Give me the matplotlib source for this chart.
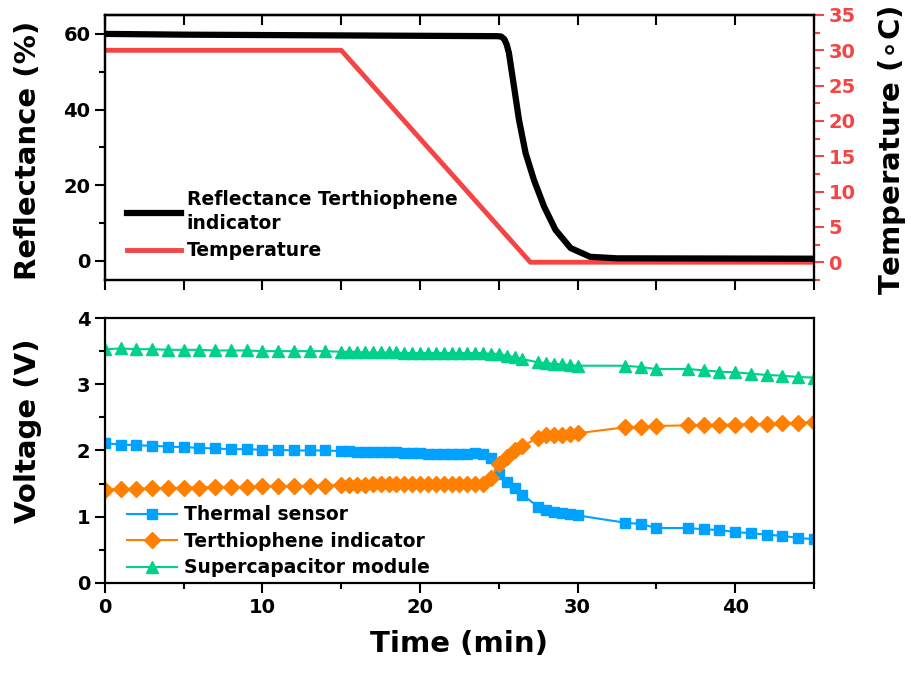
import numpy as np
import matplotlib
matplotlib.use('Agg')
import matplotlib.pyplot as plt
from matplotlib.ticker import MultipleLocator

# ---- top panel: reflectance (%) and temperature (C) vs time (min)
refl_t = [0, 5, 10, 15, 20, 24.9, 25.15, 25.35, 25.5, 25.64, 25.96, 26.28, 26.7,
          27.23, 27.87, 28.6, 29.56, 30.8, 32.5, 45.0]
refl_v = [60.0, 59.8, 59.7, 59.6, 59.5, 59.4, 59.3, 58.6, 57.2, 55.0, 46.2, 37.3,
          28.5, 21.4, 14.4, 8.2, 3.4, 1.1, 0.7, 0.6]
temp_t = [0, 15, 27, 45]
temp_v = [30, 30, 0, 0]

# ---- bottom panel: voltages (V)
v_t = list(range(0, 15)) + [15 + 0.5 * i for i in range(24)] + \
      [27.5, 28, 28.5, 29, 29.5, 30, 33, 34, 35, 37, 38, 39, 40, 41, 42, 43, 44, 45]
thermal = [2.11, 2.09, 2.08, 2.07, 2.06, 2.05, 2.04, 2.03, 2.02, 2.02, 2.01, 2.01,
           2.00, 2.00, 2.00,
           1.99, 1.99, 1.98, 1.98, 1.98, 1.97, 1.97, 1.97, 1.96, 1.96, 1.96, 1.95,
           1.95, 1.95, 1.95, 1.94, 1.95, 1.96, 1.94, 1.89, 1.65, 1.53, 1.43, 1.33,
           1.15, 1.10, 1.07, 1.05, 1.04, 1.02, 0.91, 0.89, 0.83, 0.83, 0.81, 0.80,
           0.77, 0.75, 0.73, 0.71, 0.68, 0.66]
terth = [1.41, 1.42, 1.42, 1.43, 1.43, 1.44, 1.44, 1.45, 1.45, 1.45, 1.46, 1.46,
         1.46, 1.47, 1.47,
         1.48, 1.48, 1.48, 1.48, 1.49, 1.49, 1.49, 1.49, 1.49, 1.50, 1.50, 1.50,
         1.50, 1.50, 1.50, 1.50, 1.50, 1.50, 1.50, 1.58, 1.80, 1.90, 2.00, 2.07,
         2.19, 2.23, 2.24, 2.24, 2.25, 2.26, 2.35, 2.36, 2.37, 2.38, 2.38, 2.39,
         2.39, 2.40, 2.40, 2.41, 2.42, 2.43]
supercap = [3.53, 3.54, 3.53, 3.53, 3.52, 3.52, 3.52, 3.51, 3.51, 3.51, 3.50, 3.50,
            3.50, 3.50, 3.50,
            3.49, 3.49, 3.49, 3.48, 3.48, 3.48, 3.48, 3.48, 3.47, 3.47, 3.47, 3.47,
            3.47, 3.47, 3.47, 3.47, 3.47, 3.47, 3.47, 3.46, 3.46, 3.43, 3.41, 3.38,
            3.33, 3.32, 3.31, 3.30, 3.29, 3.28, 3.28, 3.26, 3.23, 3.23, 3.21, 3.19,
            3.18, 3.16, 3.14, 3.13, 3.11, 3.10]

RED = '#F44545'
BLUE = '#00A2FF'
ORANGE = '#FF8000'
GREEN = '#00D189'

plt.rcParams['font.family'] = ['DejaVu Sans']
plt.rcParams['font.weight'] = 'bold'
plt.rcParams['axes.linewidth'] = 1.6
plt.rcParams['mathtext.default'] = 'bf'

fig = plt.figure(figsize=(9.12, 6.81), dpi=100)
ax1 = fig.add_axes([0.115, 0.589, 0.7775, 0.389])
ax2 = fig.add_axes([0.115, 0.144, 0.7775, 0.389])
axT = ax1.twinx()

# top panel
ln1, = ax1.plot(refl_t, refl_v, color='black', lw=4.5, solid_joinstyle='round',
                label='Reflectance Terthiophene\nindicator')
ln2, = axT.plot(temp_t, temp_v, color=RED, lw=3.5, label='Temperature')
ax1.set_zorder(axT.get_zorder() + 1)
ax1.patch.set_visible(False)

ax1.set_xlim(0, 45)
ax1.set_ylim(-5, 65)
axT.set_ylim(-2.5, 35)
ax1.xaxis.set_major_locator(MultipleLocator(5))
ax1.set_xticklabels([])
ax1.yaxis.set_major_locator(MultipleLocator(20))
ax1.yaxis.set_minor_locator(MultipleLocator(10))
ax1.tick_params(axis='x', which='both', direction='out', length=7, width=1.5)
ax1.tick_params(axis='y', which='major', direction='out', length=7, width=1.5,
                labelsize=14)
ax1.tick_params(axis='y', which='minor', direction='out', length=4, width=1.5)
top = ax1.secondary_xaxis('top')
top.xaxis.set_major_locator(MultipleLocator(5))
top.tick_params(direction='in', length=7, width=1.5, labeltop=False)
ax1.set_ylabel('Reflectance (%)', fontsize=21, fontweight='bold')
ax1.yaxis.set_label_coords(-0.089, 0.49)

axT.yaxis.set_major_locator(MultipleLocator(5))
axT.yaxis.set_minor_locator(MultipleLocator(2.5))
axT.tick_params(axis='y', which='major', direction='out', length=7, width=1.5,
                colors=RED, labelsize=14)
axT.tick_params(axis='y', which='minor', direction='out', length=4, width=1.5,
                colors=RED)
axT.spines['right'].set_color(RED)
for lab in axT.get_yticklabels():
    lab.set_fontweight('bold')
axT.set_ylabel('Temperature ($\\circ$C)', fontsize=21, fontweight='bold')
axT.yaxis.set_label_coords(1.088, 0.49)

leg1 = ax1.legend(handles=[ln1, ln2], loc='lower left',
                  bbox_to_anchor=(0.007, 0.01), frameon=False,
                  handlelength=2.9, handletextpad=0.3, labelspacing=0.42,
                  prop={'weight': 'bold', 'size': 13.5})
for t in leg1.get_texts():
    t.set_linespacing(1.35)

# bottom panel
ax2.plot(v_t, thermal, color=BLUE, lw=1.5, marker='s', ms=7.5, label='Thermal sensor')
ax2.plot(v_t, terth, color=ORANGE, lw=1.5, marker='D', ms=8,
         label='Terthiophene indicator')
ax2.plot(v_t, supercap, color=GREEN, lw=1.5, marker='^', ms=8.5,
         label='Supercapacitor module')
ax2.set_xlim(0, 45)
ax2.set_ylim(0, 4)
ax2.xaxis.set_major_locator(MultipleLocator(10))
ax2.xaxis.set_minor_locator(MultipleLocator(5))
ax2.yaxis.set_major_locator(MultipleLocator(1))
ax2.yaxis.set_minor_locator(MultipleLocator(0.5))
ax2.tick_params(axis='both', which='major', direction='out', length=7, width=1.5,
                labelsize=14)
ax2.tick_params(axis='both', which='minor', direction='out', length=4, width=1.5)
ax2.set_xlabel('Time (min)', fontsize=21, fontweight='bold', labelpad=10)
ax2.set_ylabel('Voltage (V)', fontsize=21, fontweight='bold')
ax2.yaxis.set_label_coords(-0.089, 0.574)
ax2.legend(loc='lower left', bbox_to_anchor=(0.007, -0.043), frameon=False,
           handlelength=2.7, handletextpad=0.35, labelspacing=0.4,
           prop={'weight': 'bold', 'size': 13.5})

for ax in (ax1, ax2):
    for lab in ax.get_xticklabels() + ax.get_yticklabels():
        lab.set_fontweight('bold')

fig.savefig('out.png', dpi=100)
